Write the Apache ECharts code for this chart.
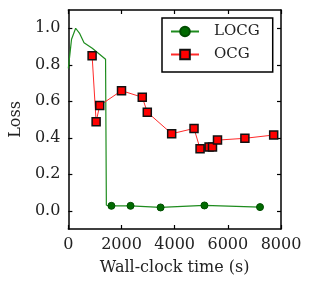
<!DOCTYPE html>
<html><head><meta charset="utf-8">
<script src="https://cdn.jsdelivr.net/npm/echarts@6/dist/echarts.min.js"></script>
<style>html,body{margin:0;padding:0;background:#fff}#c{width:312px;height:291px}</style>
</head><body><div id="c"></div>
<script>
// LOCG: early unmarked curve part, then marked points
const locgCurveX = [0, 120, 275, 430, 590, 900, 1400, 1430];
const locgCurveY = [0.78, 0.94, 1.0, 0.97, 0.92, 0.89, 0.83, 0.03];
const locgX = [1620, 2340, 3470, 5120, 7210];
const locgY = [0.027, 0.027, 0.018, 0.029, 0.02];
const ocgX = [894, 1045, 1181, 2000, 2781, 2970, 3887, 4728, 4955, 5294, 5423, 5611, 6642, 7725];
const ocgY = [0.849, 0.488, 0.577, 0.658, 0.622, 0.540, 0.422, 0.451, 0.340, 0.349, 0.349, 0.387, 0.397, 0.415];
const xTicks = [0, 2000, 4000, 6000, 8000];
const yTicks = [0, 0.2, 0.4, 0.6, 0.8, 1.0];
const seriesNames = ['LOCG', 'OCG'];

const font = 'DejaVu Serif';
const locgData = locgCurveX.map((x, i) => ({value: [x, locgCurveY[i]], symbol: 'none'}))
  .concat(locgX.map((x, i) => ({value: [x, locgY[i]]})));
const ocgData = ocgX.map((x, i) => [x, ocgY[i]]);

const axLine = {show: true, onZero: false, lineStyle: {color: '#000', width: 1.5}};
const tick = {show: true, inside: true, length: 4, lineStyle: {color: '#000', width: 1.2}};
const chart = echarts.init(document.getElementById('c'), null, {renderer: 'canvas'});
chart.setOption({
  animation: false,
  backgroundColor: '#fff',
  grid: {left: 68, right: 31, top: 10, bottom: 62},
  legend: {
    data: seriesNames, orient: 'vertical', left: 162, top: 18,
    padding: [6, 13, 10, 8], itemGap: 8, itemWidth: 28, itemHeight: 12,
    borderColor: '#000', borderWidth: 1.5, backgroundColor: '#fff',
    textStyle: {fontFamily: font, fontSize: 15, color: '#222', padding: [0, 0, 0, 10]}
  },
  xAxis: [{
    type: 'value', min: 0, max: 8000, interval: 2000, position: 'bottom',
    name: 'Wall-clock time (s)', nameLocation: 'middle', nameGap: 31,
    nameTextStyle: {fontFamily: font, fontSize: 16, color: '#222'},
    axisLine: axLine, axisTick: tick, splitLine: {show: false},
    axisLabel: {fontFamily: font, fontSize: 16, color: '#222', margin: 8,
      customValues: xTicks, formatter: v => String(v)}
  }, {
    type: 'value', min: 0, max: 8000, interval: 2000, position: 'top',
    axisLine: axLine, axisTick: tick, splitLine: {show: false}, axisLabel: {show: false}
  }],
  yAxis: [{
    type: 'value', min: -0.1, max: 1.1, position: 'left',
    name: 'Loss', nameLocation: 'middle', nameGap: 42,
    nameTextStyle: {fontFamily: font, fontSize: 16, color: '#222'},
    axisLine: axLine, axisTick: Object.assign({customValues: yTicks}, tick), splitLine: {show: false},
    axisLabel: {fontFamily: font, fontSize: 16, color: '#222', margin: 8,
      customValues: yTicks, formatter: v => v.toFixed(1)}
  }, {
    type: 'value', min: -0.1, max: 1.1, position: 'right',
    axisLine: axLine, axisTick: Object.assign({customValues: yTicks}, tick),
    splitLine: {show: false}, axisLabel: {show: false}
  }],
  series: [{
    name: seriesNames[0], type: 'line', data: locgData,
    symbol: 'circle', symbolSize: 7,
    lineStyle: {color: '#1e8c1e', width: 1.2},
    itemStyle: {color: '#006a00', borderColor: '#004d00', borderWidth: 1}
  }, {
    name: seriesNames[1], type: 'line', data: ocgData,
    symbol: 'rect', symbolSize: 8,
    lineStyle: {color: '#ff2a2a', width: 1},
    itemStyle: {color: '#ff0000', borderColor: '#111', borderWidth: 1.5}
  }]
});
</script></body></html>
